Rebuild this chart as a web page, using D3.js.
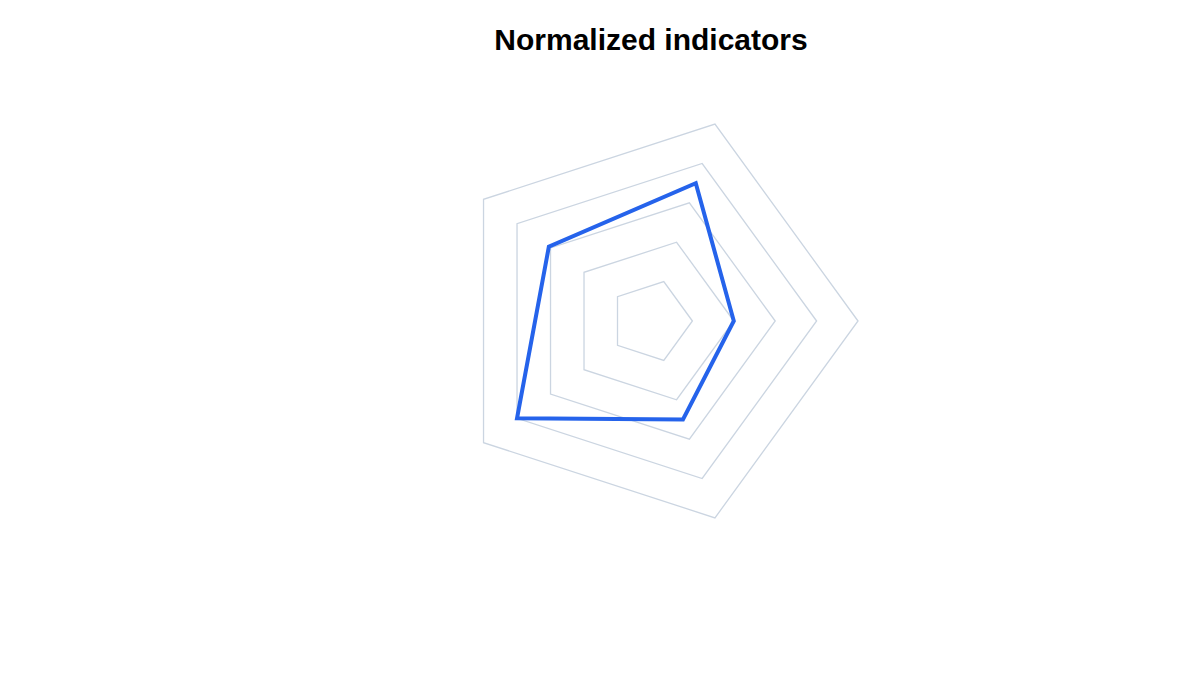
<!DOCTYPE html>
<html>
<head>
<meta charset="utf-8">
<script src="https://cdn.jsdelivr.net/npm/d3@7"></script>
<style>
html,body{margin:0;padding:0;background:#fff;}
svg{display:block;}
</style>
</head>
<body>
<svg id="chart" width="1200" height="700"></svg>
<script>
const axes = ["A", "B", "C", "D", "E"];
const values = [0.4, 0.7, 0.61, 0.8, 0.5];
const levels = [0.2, 0.4, 0.6, 0.8, 1.0];
const title = "Normalized indicators";

const svg = d3.select("#chart");
const cx = 651, cy = 321, R = 207;
const r = d3.scaleLinear().domain([0, 1]).range([0, R]);
const angle = d3.scaleLinear().domain([0, axes.length]).range([0, -2 * Math.PI]);

svg.append("text")
  .attr("x", 651).attr("y", 49.5)
  .attr("text-anchor", "middle")
  .attr("font-family", "Liberation Sans, Arial, sans-serif")
  .attr("font-weight", "bold")
  .attr("font-size", 30)
  .attr("fill", "#000")
  .text(title);

const g = svg.append("g").attr("transform", `translate(${cx},${cy})`);
const pt = (i, v) => [r(v) * Math.cos(angle(i)), r(v) * Math.sin(angle(i))];
const line = d3.line().curve(d3.curveLinearClosed);

g.selectAll("path.grid").data(levels).join("path")
  .attr("class", "grid")
  .attr("d", lv => line(axes.map((a, i) => pt(i, lv))))
  .attr("fill", "none")
  .attr("stroke", "#cbd5e1")
  .attr("stroke-width", 1.3);

g.append("path")
  .attr("d", line(values.map((v, i) => pt(i, v))))
  .attr("fill", "none")
  .attr("stroke", "#2563eb")
  .attr("stroke-width", 4)
  .attr("stroke-linejoin", "miter");
</script>
</body>
</html>
